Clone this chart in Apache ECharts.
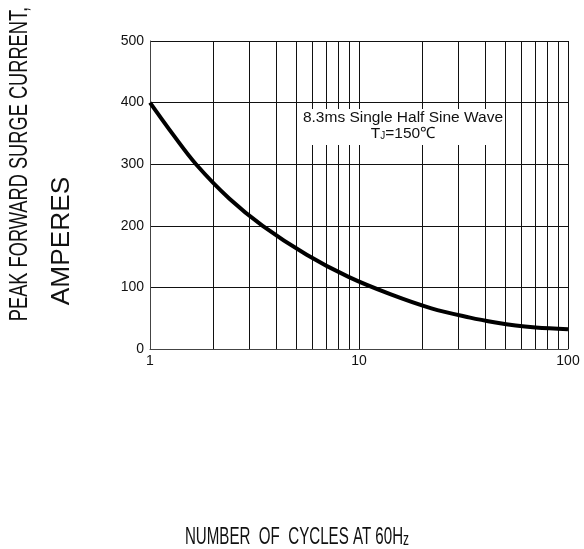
<!DOCTYPE html>
<html>
<head>
<meta charset="utf-8">
<script src="https://cdn.jsdelivr.net/npm/echarts@6/dist/echarts.min.js"></script>
<style>
  html, body { margin: 0; padding: 0; background: #fff; }
  #chart { width: 584px; height: 549px; }
</style>
</head>
<body>
<div id="chart"></div>
<script>
// cycles (x, log scale) and peak surge current (y, amperes)
var cycles  = [1,   1.29, 1.66, 2.40, 3.46, 5.62, 8.91, 14.1, 22.2, 34.0, 45.0, 56.2, 70.0, 100];
var current = [400, 348,  300,  244,  200,  153,  117,  89,   66,   51,   43,   38,   35,   32];

// minor vertical grid lines of the log axis
var minorX = [2, 3, 4, 5, 6, 7, 8, 9, 20, 30, 40, 50, 60, 70, 80, 90];

var yTicks = [0, 100, 200, 300, 400, 500];

var font = '"Liberation Sans", Arial, sans-serif';

var chart = echarts.init(document.getElementById('chart'));

chart.setOption({
  animation: false,
  grid: { left: 150, right: 16, top: 41, bottom: 200 },
  xAxis: {
    type: 'log',
    logBase: 10,
    min: 1,
    max: 100,
    axisLine: { lineStyle: { color: '#444', width: 1 } },
    axisTick: { show: false },
    axisLabel: { color: '#111', fontSize: 14, fontFamily: font, margin: 5 },
    splitLine: { show: true, lineStyle: { color: '#111', width: 1 } }
  },
  yAxis: {
    type: 'value',
    min: yTicks[0],
    max: yTicks[yTicks.length - 1],
    interval: 100,
    axisLine: { show: true, lineStyle: { color: '#444', width: 1 } },
    axisTick: { show: false },
    axisLabel: { color: '#111', fontSize: 14, fontFamily: font, margin: 6 },
    splitLine: { show: true, lineStyle: { color: '#111', width: 1 } }
  },
  series: [
    {
      // holds the minor grid lines only
      type: 'line',
      data: [],
      silent: true,
      markLine: {
        z: 1,
        silent: true,
        symbol: 'none',
        label: { show: false },
        lineStyle: { color: '#111', width: 1, type: 'solid' },
        data: minorX.map(function (v) { return { xAxis: v }; })
      }
    },
    {
      type: 'line',
      z: 5,
      smooth: 0.35,
      symbol: 'none',
      lineStyle: { color: '#000', width: 4 },
      data: cycles.map(function (c, i) { return [c, current[i]]; })
    }
  ],
  graphic: [
    {
      type: 'text',
      z: 100,
      x: 403,
      y: 109,
      style: {
        text: '8.3ms Single Half Sine Wave\nT{sub|J}=150℃',
        align: 'center',
        verticalAlign: 'top',
        fontSize: 15.5,
        lineHeight: 16,
        fontFamily: font,
        fill: '#111',
        backgroundColor: '#fff',
        padding: [1, 1, 3, 1],
        rich: {
          sub: { fontSize: 10, fontFamily: font, fill: '#111', padding: [4, 0, 0, 0] }
        }
      }
    },
    {
      type: 'text',
      x: 20,
      y: 164,
      rotation: Math.PI / 2,
      scaleX: 0.73,
      style: {
        text: 'PEAK FORWARD SURGE CURRENT,',
        align: 'center',
        verticalAlign: 'middle',
        fontSize: 25,
        fontFamily: font,
        fill: '#111'
      }
    },
    {
      type: 'text',
      x: 62,
      y: 241,
      rotation: Math.PI / 2,
      scaleX: 1.05,
      style: {
        text: 'AMPERES',
        align: 'center',
        verticalAlign: 'middle',
        fontSize: 25,
        fontFamily: font,
        fill: '#111'
      }
    },
    {
      type: 'text',
      x: 297,
      y: 537,
      scaleX: 0.63,
      style: {
        text: 'NUMBER  OF  CYCLES AT 60H{z|z}',
        align: 'center',
        verticalAlign: 'middle',
        fontSize: 24,
        fontFamily: font,
        fill: '#111',
        rich: {
          z: { fontSize: 19, fontFamily: font, fill: '#111', padding: [5, 0, 0, 0] }
        }
      }
    }
  ]
});
</script>
</body>
</html>
